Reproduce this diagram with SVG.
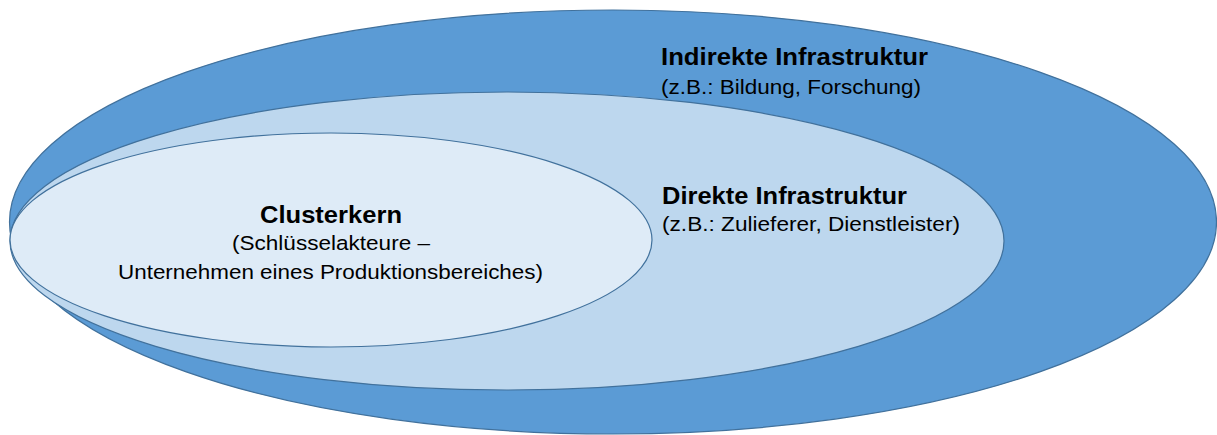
<svg xmlns="http://www.w3.org/2000/svg" width="1217" height="435" viewBox="0 0 1217 435">
  <style>
    .ring { stroke: #41719C; stroke-width: 1.2; }
    .outer { fill: #5B9BD5; }
    .middle { fill: #BDD7EE; }
    .inner { fill: #DEEBF7; }
    .title { font-family: "Liberation Sans", Arial, sans-serif; font-weight: bold; font-size: 23.5px; fill: #000; }
    .sub { font-family: "Liberation Sans", Arial, sans-serif; font-size: 20.5px; fill: #000; }
  </style>
  <rect width="1217" height="435" fill="#fff"/>
  <!-- outer ring: indirect infrastructure -->
  <g id="indirekte-infrastruktur">
    <ellipse class="ring outer" cx="613" cy="222" rx="603.5" ry="212"/>
    <text class="title" x="661" y="65" textLength="267" lengthAdjust="spacingAndGlyphs">Indirekte Infrastruktur</text>
    <text class="sub" x="661" y="94" textLength="260" lengthAdjust="spacingAndGlyphs">(z.B.: Bildung, Forschung)</text>
  </g>
  <!-- middle ring: direct infrastructure -->
  <g id="direkte-infrastruktur">
    <ellipse class="ring middle" cx="507" cy="241" rx="497" ry="149"/>
    <text class="title" x="662" y="204" textLength="245" lengthAdjust="spacingAndGlyphs">Direkte Infrastruktur</text>
    <text class="sub" x="662" y="231" textLength="298" lengthAdjust="spacingAndGlyphs">(z.B.: Zulieferer, Dienstleister)</text>
  </g>
  <!-- core -->
  <g id="clusterkern">
    <ellipse class="ring inner" cx="331" cy="240" rx="321" ry="107"/>
    <text class="title" x="331" y="223" text-anchor="middle" textLength="142" lengthAdjust="spacingAndGlyphs">Clusterkern</text>
    <text class="sub" x="331" y="250" text-anchor="middle" textLength="198" lengthAdjust="spacingAndGlyphs">(Schlüsselakteure –</text>
    <text class="sub" x="330.5" y="279" text-anchor="middle" textLength="425" lengthAdjust="spacingAndGlyphs">Unternehmen eines Produktionsbereiches)</text>
  </g>
  <g id="connectors"/>
</svg>
